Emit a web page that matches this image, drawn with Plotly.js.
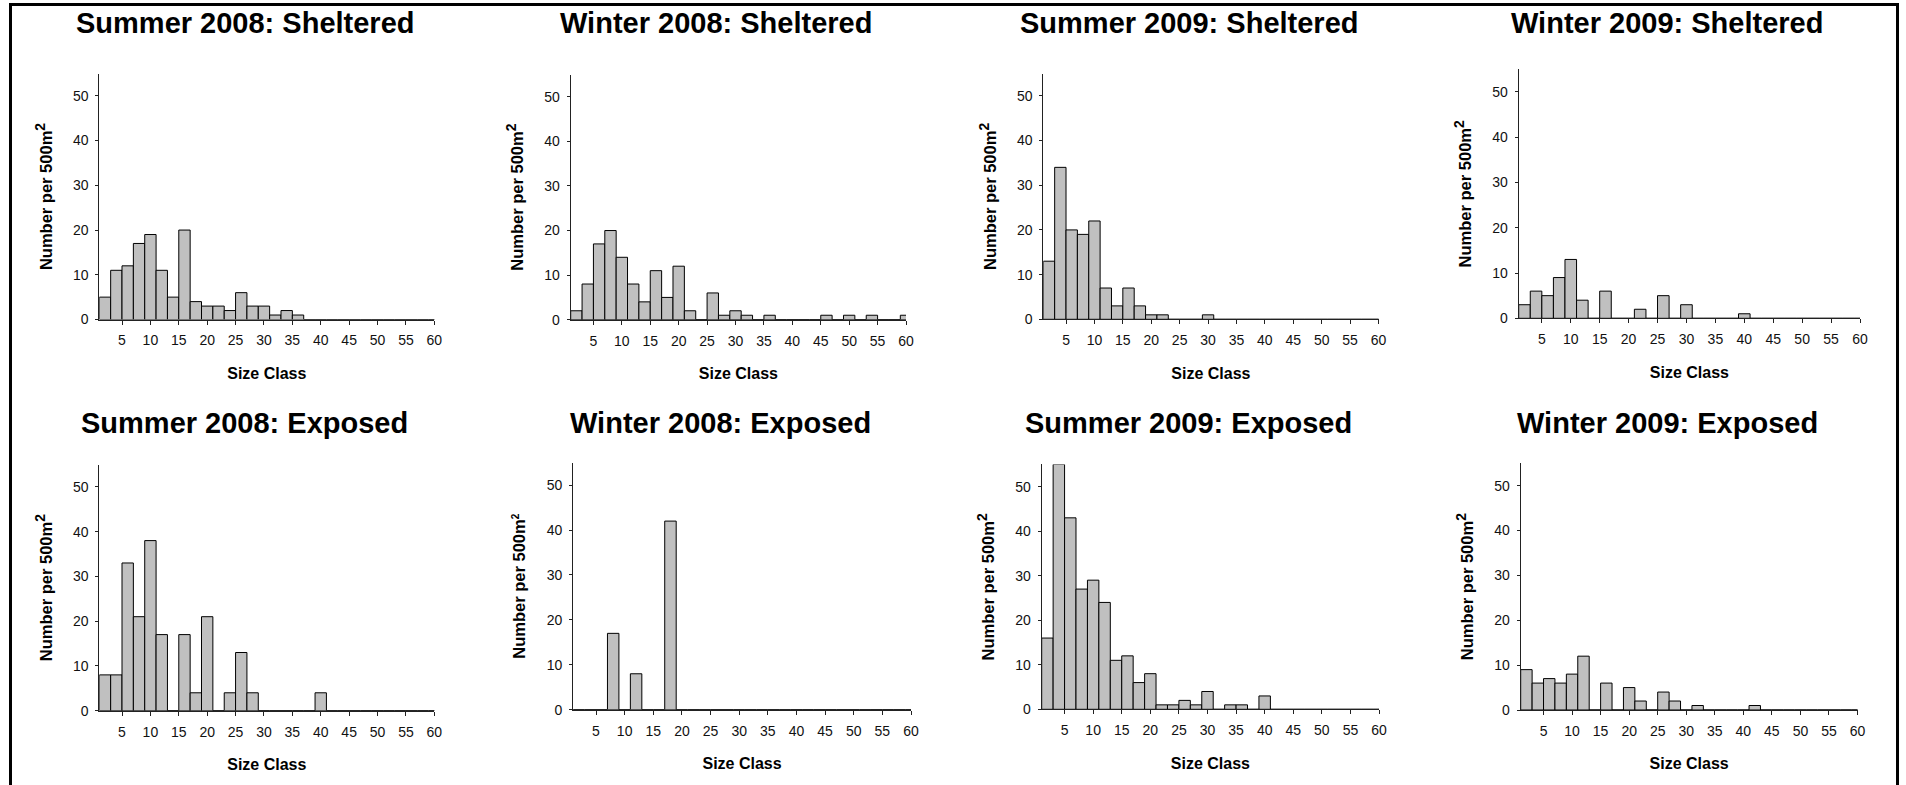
<!DOCTYPE html>
<html>
<head>
<meta charset="utf-8">
<script src="https://cdn.plot.ly/plotly-3.0.1.min.js"></script>
<style>
  html, body { margin: 0; padding: 0; background: #ffffff; }
  #wrap { position: relative; width: 1906px; height: 785px; overflow: hidden; }
  #chart { position: absolute; left: 0; top: 0; width: 1906px; height: 785px; }
  #frame {
    position: absolute; left: 9px; top: 3px; width: 1884px; height: 800px;
    border: 3px solid #000; pointer-events: none;
  }
</style>
</head>
<body>
<div id="wrap">
  <div id="chart"></div>
  <div id="frame"></div>
</div>
<script>
// Size classes (bin centres, 2-unit bins)
const sizeClasses = [2, 4, 6, 8, 10, 12, 14, 16, 18, 20, 22, 24, 26, 28, 30,
                     32, 34, 36, 38, 40, 42, 44, 46, 48, 50, 52, 54, 56, 58, 60];
const xTickValues = [5, 10, 15, 20, 25, 30, 35, 40, 45, 50, 55, 60];
const yTickValues = [0, 10, 20, 30, 40, 50];

// Counts per 500 m2 for each size class
const summer2008Sheltered = [5, 11, 12, 17, 19, 11, 5, 20, 4, 3, 3, 2, 6, 3, 3,
                             1, 2, 1, 0, 0, 0, 0, 0, 0, 0, 0, 0, 0, 0, 0];
const winter2008Sheltered = [2, 8, 17, 20, 14, 8, 4, 11, 5, 12, 2, 0, 6, 1, 2,
                             1, 0, 1, 0, 0, 0, 0, 1, 0, 1, 0, 1, 0, 0, 1];
const summer2009Sheltered = [13, 34, 20, 19, 22, 7, 3, 7, 3, 1, 1, 0, 0, 0, 1,
                             0, 0, 0, 0, 0, 0, 0, 0, 0, 0, 0, 0, 0, 0, 0];
const winter2009Sheltered = [3, 6, 5, 9, 13, 4, 0, 6, 0, 0, 2, 0, 5, 0, 3,
                             0, 0, 0, 0, 1, 0, 0, 0, 0, 0, 0, 0, 0, 0, 0];
const summer2008Exposed   = [8, 8, 33, 21, 38, 17, 0, 17, 4, 21, 0, 4, 13, 4, 0,
                             0, 0, 0, 0, 4, 0, 0, 0, 0, 0, 0, 0, 0, 0, 0];
const winter2008Exposed   = [0, 0, 0, 17, 0, 8, 0, 0, 42, 0, 0, 0, 0, 0, 0,
                             0, 0, 0, 0, 0, 0, 0, 0, 0, 0, 0, 0, 0, 0, 0];
const summer2009Exposed   = [16, 55, 43, 27, 29, 24, 11, 12, 6, 8, 1, 1, 2, 1, 4,
                             0, 1, 1, 0, 3, 0, 0, 0, 0, 0, 0, 0, 0, 0, 0];
const winter2009Exposed   = [9, 6, 7, 6, 8, 12, 0, 6, 0, 5, 2, 0, 4, 2, 0,
                             1, 0, 0, 0, 0, 1, 0, 0, 0, 0, 0, 0, 0, 0, 0];

const panelTitles = [
  "Summer 2008: Sheltered", "Winter 2008: Sheltered",
  "Summer 2009: Sheltered", "Winter 2009: Sheltered",
  "Summer 2008: Exposed", "Winter 2008: Exposed",
  "Summer 2009: Exposed", "Winter 2009: Exposed"
];
const panelSeries = [
  summer2008Sheltered, winter2008Sheltered, summer2009Sheltered, winter2009Sheltered,
  summer2008Exposed, winter2008Exposed, summer2009Exposed, winter2009Exposed
];
const xAxisTitle = "Size Class";
const yAxisTitleBase = "Number per 500m";

// Plot-area boxes in pixels: [left, right, top, bottom]
const W = 1906, H = 785;
const boxes = [
  [99.3, 434.3, 73.5, 319.5],
  [570.7, 906.0, 74.5, 319.7],
  [1043.3, 1378.5, 73.5, 319.3],
  [1518.7, 1860.0, 69.3, 318.3],
  [99.3, 434.3, 464.5, 710.7],
  [573.1, 911.0, 462.7, 709.7],
  [1041.7, 1379.0, 464.4, 709.3],
  [1520.7, 1857.5, 463.3, 710.0]
];
// superscript size of the "2" in each y-axis title
const supSizes = [14, 14, 14, 14, 14, 10, 14, 14];

const FONT = "Liberation Sans, Arial, Helvetica, sans-serif";
const traces = [];
const layout = {
  width: W, height: H,
  margin: {l: 0, r: 0, t: 0, b: 0},
  paper_bgcolor: "#ffffff",
  plot_bgcolor: "rgba(0,0,0,0)",
  showlegend: false,
  bargap: 0,
  font: {family: FONT, color: "#000000"},
  annotations: []
};

panelSeries.forEach((series, i) => {
  const n = i + 1;
  const xa = "x" + (n === 1 ? "" : n);
  const ya = "y" + (n === 1 ? "" : n);
  const [x0, x1, yt, yb] = boxes[i];

  traces.push({
    type: "bar",
    x: sizeClasses,
    y: series,
    xaxis: xa, yaxis: ya,
    width: 2,
    marker: {color: "#c0c0c0", line: {color: "#000000", width: 1}},
    hoverinfo: "x+y"
  });

  layout["xaxis" + (n === 1 ? "" : n)] = {
    domain: [x0 / W, x1 / W],
    anchor: ya,
    range: [1, 60],
    tickmode: "array",
    tickvals: xTickValues,
    ticks: "outside", ticklen: 4, tickwidth: 1, tickcolor: "#222",
    showline: true, linecolor: "#222", linewidth: 1,
    showgrid: false, zeroline: false,
    ticklabelstandoff: 4,
    tickfont: {family: FONT, size: 14, color: "#111"},
    title: {
      text: xAxisTitle,
      standoff: 20,
      font: {family: FONT, size: 16, weight: 700, color: "#000"}
    },
    fixedrange: true
  };
  layout["yaxis" + (n === 1 ? "" : n)] = {
    domain: [1 - yb / H, 1 - yt / H],
    anchor: xa,
    range: [0, 55],
    tickmode: "array",
    tickvals: yTickValues,
    ticks: "outside", ticklen: 3, tickwidth: 1, tickcolor: "#222",
    showline: true, linecolor: "#222", linewidth: 1,
    showgrid: false, zeroline: false,
    ticklabelstandoff: 4,
    tickfont: {family: FONT, size: 14, color: "#111"},
    title: {
      text: yAxisTitleBase + '<sup><span style="font-size:' + supSizes[i] + 'px">2</span></sup>',
      standoff: 16,
      font: {family: FONT, size: 16.5, weight: 700, color: "#000"}
    },
    fixedrange: true
  };

  // panel title
  layout.annotations.push({
    text: panelTitles[i],
    xref: "paper", yref: "paper",
    x: ((x0 + x1) / 2 - 22) / W,
    y: 1 - (i < 4 ? 23.5 : 423) / H,
    xanchor: "center", yanchor: "middle",
    showarrow: false,
    font: {family: FONT, size: 29, weight: 700, color: "#000"}
  });
});

Plotly.newPlot("chart", traces, layout, {displayModeBar: false, staticPlot: true});
</script>
</body>
</html>
